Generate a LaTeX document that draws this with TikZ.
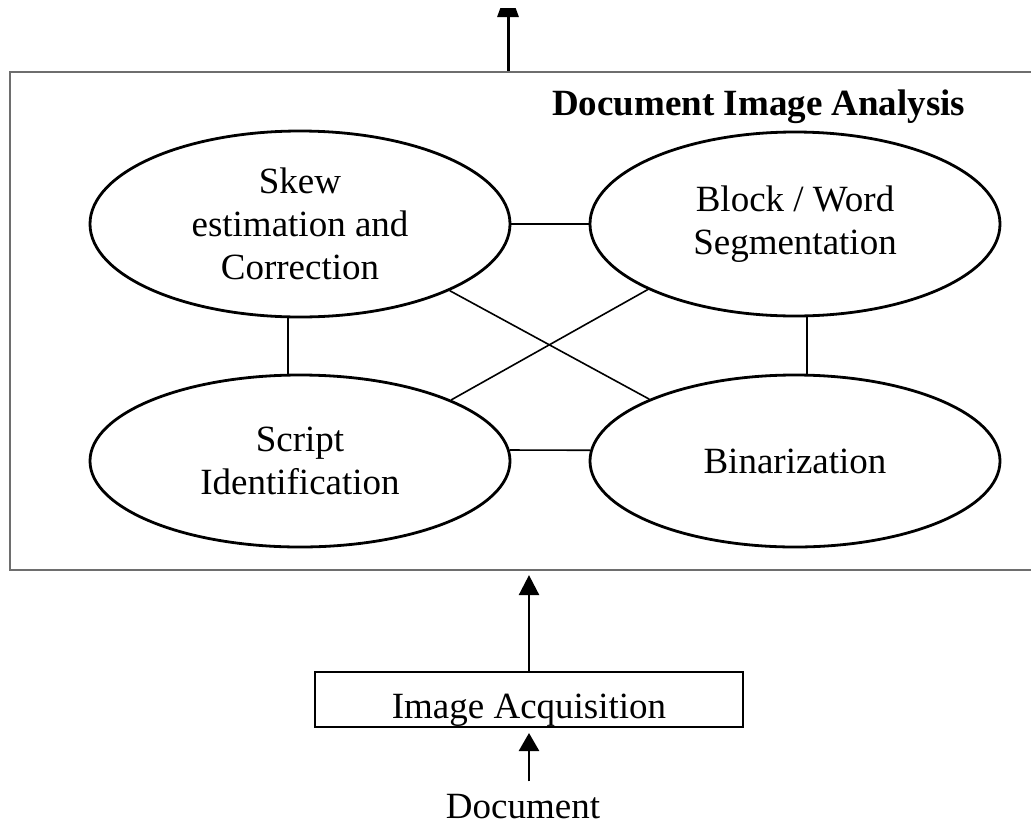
\documentclass[tikz,border=0pt]{standalone}
\usepackage{fontspec}
\setmainfont{Liberation Serif}
\usetikzlibrary{shapes.geometric,arrows.meta}
\definecolor{framegray}{RGB}{110,110,110}
\begin{document}
\begin{tikzpicture}[x=1pt,y=-1pt,
  every node/.style={font=\fontsize{37}{43}\selectfont},
  bubble/.style={ellipse,draw,line width=2.8pt,inner sep=0pt,align=center},
  link/.style={line width=1.6pt},
  arr/.style={line width=2.6pt,-{Triangle[length=20pt,width=20pt]}},
]
\useasboundingbox (0,0) rectangle (1031,825);
\clip (0,0) rectangle (1031,825);
% main frame
\node[draw=framegray,line width=2.2pt,inner sep=0pt,minimum width=1035pt,minimum height=498pt] (dia) at (527.5,321) {};
\node[anchor=base west,inner sep=0pt,font=\bfseries\fontsize{37}{43}\selectfont] (title) at (552,115) {Document Image Analysis};
% ellipses
\node[bubble,minimum width=420pt,minimum height=186pt] (e1) at (300,224) {Skew\\estimation and\\Correction};
\node[bubble,minimum width=410pt,minimum height=184pt] (e2) at (795,224) {Block / Word\\Segmentation};
\node[bubble,minimum width=420pt,minimum height=172pt] (e3) at (300,461) {Script\\Identification};
\node[bubble,minimum width=410pt,minimum height=172pt] (e4) at (795,461) {Binarization};
% links
\draw[link] (e1.east) -- (e2.west);
\draw[link] (e3.3) -- (e4.177);
\draw[link] ([xshift=-12pt]e1.south) -- ([xshift=-12pt]e3.north);
\draw[link] ([xshift=12pt]e2.south) -- ([xshift=12pt]e4.north);
\draw[link] (e1.-24.4) -- (e4.157.2);
\draw[link] (e3.22.1) -- (e2.-156);
% output arrow (its head is cut by the top edge)
\coordinate (out) at (508,-13);
\begin{scope}
\clip (0,8) rectangle (1031,825);
\draw[line width=3pt,-{Triangle[length=30pt,width=21pt]}] (dia.north -| out) -- (out);
\end{scope}
% image acquisition
\node[draw,line width=2pt,inner sep=0pt,text height=37pt,text depth=0pt,minimum width=428pt,minimum height=55pt] (ia) at (529,699.5) {Image Acquisition};
\draw[arr,shorten >=4pt] (ia.north) -- (ia.north |- dia.south);
\node[anchor=base] (doc) at (523,818) {Document};
\draw[line width=2.6pt,-{Triangle[length=18pt,width=20pt]},shorten <=9pt,shorten >=5pt] (doc.north -| ia.south) -- (ia.south);
\end{tikzpicture}
\end{document}
